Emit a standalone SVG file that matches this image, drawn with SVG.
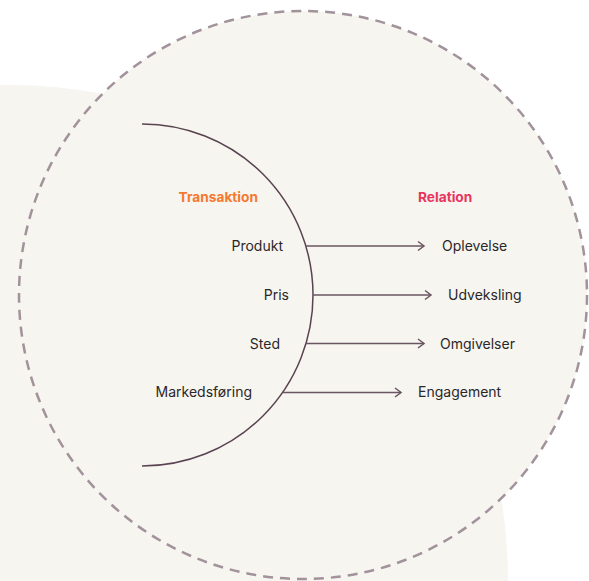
<svg xmlns="http://www.w3.org/2000/svg" width="589" height="581" viewBox="0 0 589 581">
<style>
.lbl{font-family:Inter,"Noto Sans","Liberation Sans",sans-serif;font-size:14px;fill:#2b2729}
.hd{font-family:Inter,"Noto Sans","Liberation Sans",sans-serif;font-size:13.7px;font-weight:700}
.conn{stroke:#6a5561;stroke-width:1.5;fill:none}
</style>
<defs>
<marker id="chev" markerWidth="12" markerHeight="12" refX="8" refY="6" orient="auto" markerUnits="userSpaceOnUse">
<path d="M2,1.5 L8,6 L2,10.5" fill="none" stroke="#6a5561" stroke-width="1.5"/>
</marker>
</defs>
<rect width="589" height="581" fill="#ffffff"/>
<ellipse cx="10" cy="580" rx="498" ry="495" fill="#f6f5f0"/>
<circle id="outer" cx="303" cy="295" r="284" fill="#f6f5f0" stroke="#a2929b" stroke-width="2.5" stroke-dasharray="10 7"/>
<path id="arc" d="M142,124 A171,171 0 0 1 142,466" fill="none" stroke="#5a4350" stroke-width="1.5"/>
<g id="connectors">
<line class="conn" x1="306" y1="246" x2="424" y2="246" marker-end="url(#chev)"/>
<line class="conn" x1="313" y1="295" x2="431" y2="295" marker-end="url(#chev)"/>
<line class="conn" x1="306" y1="343.5" x2="424" y2="343.5" marker-end="url(#chev)"/>
<line class="conn" x1="283" y1="392.5" x2="401" y2="392.5" marker-end="url(#chev)"/>
</g>
<g id="transaktion"><text class="hd" x="258" y="202" text-anchor="end" fill="#f47a32">Transaktion</text></g>
<g id="relation"><text class="hd" x="418" y="202" fill="#e8365e">Relation</text></g>
<g id="produkt"><text class="lbl" x="283" y="251" text-anchor="end">Produkt</text></g>
<g id="pris"><text class="lbl" x="289" y="300" text-anchor="end">Pris</text></g>
<g id="sted"><text class="lbl" x="280" y="348.5" text-anchor="end">Sted</text></g>
<g id="markedsforing"><text class="lbl" x="252" y="397" text-anchor="end">Markedsføring</text></g>
<g id="oplevelse"><text class="lbl" x="442" y="251">Oplevelse</text></g>
<g id="udveksling"><text class="lbl" x="448" y="300">Udveksling</text></g>
<g id="omgivelser"><text class="lbl" x="440" y="348.5">Omgivelser</text></g>
<g id="engagement"><text class="lbl" x="418" y="397">Engagement</text></g>
</svg>
